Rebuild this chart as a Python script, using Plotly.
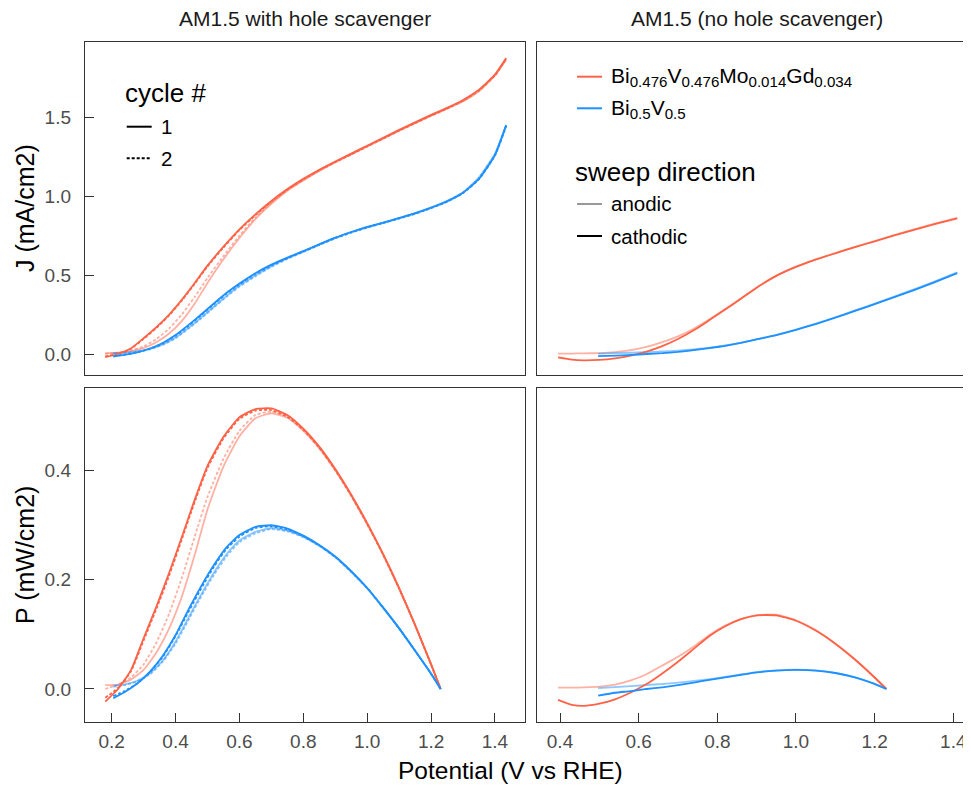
import plotly.graph_objects as go

# ---------------- data ----------------
# Left column: AM1.5 with hole scavenger
VR = [0.18, 0.22, 0.26, 0.30, 0.34, 0.38, 0.42, 0.46, 0.50, 0.55, 0.60, 0.65, 0.70, 0.75,
      0.80, 0.85, 0.90, 0.95, 1.00, 1.05, 1.10, 1.15, 1.20, 1.25, 1.30, 1.35, 1.40, 1.435]
VR_P = [0.18, 0.22, 0.26, 0.30, 0.34, 0.38, 0.42, 0.46, 0.50, 0.55, 0.60, 0.65, 0.70, 0.75,
        0.80, 0.85, 0.90, 0.95, 1.00, 1.05, 1.10, 1.15, 1.20, 1.23]
J_red_cat1 = [-0.020, 0.000, 0.035, 0.100, 0.170, 0.250, 0.345, 0.450, 0.560, 0.680, 0.790, 0.885, 0.970, 1.045,
              1.110, 1.168, 1.220, 1.270, 1.320, 1.370, 1.420, 1.468, 1.515, 1.560, 1.610, 1.675, 1.770, 1.875]
J_red_cat2 = [-0.015, 0.002, 0.033, 0.096, 0.165, 0.245, 0.340, 0.445, 0.555, 0.675, 0.785, 0.880, 0.965, 1.040,
              1.105, 1.163, 1.215, 1.265, 1.315, 1.365, 1.415, 1.463, 1.510, 1.555, 1.605, 1.670, 1.765, 1.870]
J_red_an1 = [0.005, 0.008, 0.018, 0.038, 0.075, 0.130, 0.210, 0.320, 0.450, 0.600, 0.735, 0.855, 0.952, 1.035,
             1.100, 1.160, 1.215, 1.265, 1.315, 1.365, 1.415, 1.463, 1.510, 1.555, 1.600, 1.665, 1.765, 1.865]
J_red_an2 = [0.000, 0.008, 0.022, 0.048, 0.095, 0.162, 0.252, 0.362, 0.482, 0.620, 0.750, 0.865, 0.958, 1.040,
             1.105, 1.163, 1.218, 1.268, 1.318, 1.368, 1.418, 1.466, 1.513, 1.558, 1.605, 1.672, 1.770, 1.870]
P_red_cat1 = [-0.023, 0.000, 0.034, 0.093, 0.151, 0.213, 0.279, 0.347, 0.409, 0.462, 0.498, 0.513, 0.514, 0.502,
              0.477, 0.444, 0.403, 0.356, 0.304, 0.247, 0.185, 0.117, 0.045, 0.000]
P_red_cat2 = [-0.016, 0.002, 0.032, 0.089, 0.147, 0.208, 0.275, 0.343, 0.405, 0.459, 0.495, 0.510, 0.511, 0.499,
              0.475, 0.442, 0.401, 0.354, 0.302, 0.246, 0.184, 0.117, 0.045, 0.000]
P_red_an1 = [0.007, 0.008, 0.017, 0.035, 0.067, 0.111, 0.170, 0.246, 0.329, 0.408, 0.463, 0.496, 0.505, 0.497,
             0.473, 0.441, 0.401, 0.354, 0.302, 0.246, 0.184, 0.117, 0.045, 0.000]
P_red_an2 = [0.000, 0.008, 0.021, 0.045, 0.085, 0.138, 0.204, 0.279, 0.352, 0.422, 0.473, 0.502, 0.508, 0.499,
             0.475, 0.442, 0.402, 0.355, 0.303, 0.246, 0.184, 0.117, 0.045, 0.000]

VB = [0.205, 0.24, 0.28, 0.32, 0.36, 0.40, 0.44, 0.48, 0.52, 0.56, 0.60, 0.65, 0.70, 0.75,
      0.80, 0.85, 0.90, 0.95, 1.00, 1.05, 1.10, 1.15, 1.20, 1.25, 1.30, 1.35, 1.40, 1.435]
VB_P = [0.205, 0.24, 0.28, 0.32, 0.36, 0.40, 0.44, 0.48, 0.52, 0.56, 0.60, 0.65, 0.70, 0.75,
        0.80, 0.85, 0.90, 0.95, 1.00, 1.05, 1.10, 1.15, 1.20, 1.23]
J_blue_cat1 = [-0.016, -0.006, 0.010, 0.035, 0.070, 0.120, 0.183, 0.250, 0.320, 0.388, 0.447, 0.512, 0.566, 0.611,
               0.652, 0.695, 0.737, 0.773, 0.805, 0.833, 0.862, 0.892, 0.927, 0.967, 1.022, 1.110, 1.260, 1.450]
J_blue_cat2 = [-0.012, -0.004, 0.011, 0.034, 0.068, 0.117, 0.178, 0.245, 0.315, 0.383, 0.442, 0.508, 0.563, 0.608,
               0.650, 0.693, 0.735, 0.771, 0.803, 0.831, 0.860, 0.890, 0.925, 0.965, 1.020, 1.108, 1.258, 1.445]
J_blue_an1 = [0.006, 0.008, 0.016, 0.032, 0.060, 0.105, 0.165, 0.230, 0.300, 0.368, 0.432, 0.497, 0.556, 0.605,
              0.649, 0.693, 0.735, 0.771, 0.803, 0.831, 0.860, 0.890, 0.927, 0.970, 1.025, 1.120, 1.270, 1.450]
J_blue_an2 = [0.004, 0.007, 0.015, 0.030, 0.058, 0.100, 0.160, 0.225, 0.295, 0.363, 0.427, 0.492, 0.552, 0.602,
              0.647, 0.691, 0.733, 0.769, 0.801, 0.829, 0.858, 0.888, 0.924, 0.967, 1.022, 1.115, 1.265, 1.445]
P_blue_cat1 = [-0.017, -0.006, 0.010, 0.032, 0.061, 0.099, 0.145, 0.188, 0.227, 0.260, 0.282, 0.297, 0.300, 0.294,
               0.281, 0.264, 0.243, 0.216, 0.185, 0.149, 0.111, 0.070, 0.028, 0.000]
P_blue_cat2 = [-0.013, -0.004, 0.010, 0.031, 0.059, 0.097, 0.141, 0.184, 0.224, 0.257, 0.279, 0.295, 0.298, 0.292,
               0.280, 0.263, 0.242, 0.215, 0.185, 0.149, 0.111, 0.070, 0.028, 0.000]
P_blue_an1 = [0.006, 0.008, 0.015, 0.029, 0.052, 0.087, 0.130, 0.173, 0.213, 0.247, 0.272, 0.288, 0.295, 0.290,
              0.279, 0.263, 0.242, 0.215, 0.185, 0.149, 0.111, 0.070, 0.028, 0.000]
P_blue_an2 = [0.004, 0.007, 0.014, 0.027, 0.050, 0.083, 0.126, 0.169, 0.209, 0.243, 0.269, 0.285, 0.293, 0.289,
              0.278, 0.262, 0.241, 0.214, 0.184, 0.148, 0.111, 0.070, 0.028, 0.000]

# Right column: AM1.5 (no hole scavenger), cycle 1 only
VR2 = [0.395, 0.43, 0.46, 0.50, 0.54, 0.58, 0.62, 0.66, 0.70, 0.74, 0.78, 0.82, 0.86, 0.90,
       0.95, 1.00, 1.05, 1.10, 1.15, 1.20, 1.25, 1.30, 1.35, 1.41]
VR2_P = [0.395, 0.43, 0.46, 0.50, 0.54, 0.58, 0.62, 0.66, 0.70, 0.74, 0.78, 0.82, 0.86, 0.90,
         0.95, 1.00, 1.05, 1.10, 1.15, 1.20, 1.23]
J_red_cat_nh = [-0.022, -0.036, -0.040, -0.037, -0.027, -0.010, 0.015, 0.050, 0.095, 0.150, 0.215, 0.282, 0.350, 0.420,
                0.495, 0.552, 0.598, 0.638, 0.677, 0.714, 0.752, 0.787, 0.822, 0.860]
J_red_an_nh = [0.003, 0.003, 0.004, 0.006, 0.012, 0.024, 0.045, 0.075, 0.112, 0.160, 0.220, 0.285, 0.352, 0.422,
               0.497, 0.554, 0.600, 0.640, 0.679, 0.716, 0.754, 0.789, 0.824, 0.862]
P_red_cat_nh = [-0.020, -0.029, -0.031, -0.027, -0.019, -0.0065, 0.009, 0.0285, 0.050, 0.0735, 0.097, 0.115, 0.128, 0.135,
                0.135, 0.125, 0.107, 0.083, 0.054, 0.021, 0.000]
P_red_an_nh = [0.0025, 0.0024, 0.003, 0.0044, 0.008, 0.0156, 0.027, 0.043, 0.059, 0.078, 0.099, 0.116, 0.128, 0.135,
               0.136, 0.126, 0.108, 0.083, 0.054, 0.021, 0.000]

VB2 = [0.497, 0.54, 0.58, 0.62, 0.66, 0.70, 0.74, 0.78, 0.82, 0.86, 0.90,
       0.95, 1.00, 1.05, 1.10, 1.15, 1.20, 1.25, 1.30, 1.35, 1.41]
VB2_P = [0.497, 0.54, 0.58, 0.62, 0.66, 0.70, 0.74, 0.78, 0.82, 0.86, 0.90,
         0.95, 1.00, 1.05, 1.10, 1.15, 1.20, 1.23]
J_blue_cat_nh = [-0.013, -0.010, -0.006, 0.000, 0.005, 0.013, 0.024, 0.037, 0.052, 0.070, 0.092,
                 0.120, 0.153, 0.190, 0.230, 0.273, 0.316, 0.360, 0.405, 0.452, 0.512]
J_blue_an_nh = [0.002, 0.005, 0.008, 0.012, 0.016, 0.022, 0.030, 0.040, 0.054, 0.072, 0.094,
                0.122, 0.155, 0.192, 0.233, 0.276, 0.319, 0.364, 0.410, 0.458, 0.517]
P_blue_cat_nh = [-0.012, -0.0069, -0.0039, 0.000, 0.0029, 0.0069, 0.0118, 0.0167, 0.0213, 0.0259, 0.0304,
                 0.0336, 0.0350, 0.0338, 0.0293, 0.0212, 0.0092, 0.000]
P_blue_an_nh = [0.0015, 0.0035, 0.0052, 0.0073, 0.0091, 0.0117, 0.0147, 0.0180, 0.0221, 0.0266, 0.0310,
                0.0342, 0.0354, 0.0342, 0.0296, 0.0214, 0.0092, 0.000]

X_TICKS_LEFT = [0.2, 0.4, 0.6, 0.8, 1.0, 1.2, 1.4]
X_TICKS_RIGHT = [0.4, 0.6, 0.8, 1.0, 1.2, 1.4]
J_TICKS = [0.0, 0.5, 1.0, 1.5]
P_TICKS = [0.0, 0.2, 0.4]

STRIP_TITLES = ["AM1.5 with hole scavenger", "AM1.5 (no hole scavenger)"]
# (element, subscript) pairs of the two material formulas
MAT_RED = [("Bi", "0.476"), ("V", "0.476"), ("Mo", "0.014"), ("Gd", "0.034")]
MAT_BLUE = [("Bi", "0.5"), ("V", "0.5")]

# ---------------- styling ----------------
# the page body adds an 8 px margin; the figure is sized so that it ends at the window edge
OFF = 8
W, H = 971 - OFF, 785 - OFF
RED = "rgb(255,99,71)"
RED_L = "rgba(255,99,71,0.5)"
BLUE = "rgb(30,144,255)"
BLUE_L = "rgba(30,144,255,0.5)"
FONT = "Liberation Sans, Arial, sans-serif"
LW = 1.8
DOT = "3px,2px"
LEG_SIZE = 21


def formula(parts):
    out = ""
    for el, sub in parts:
        out += '<span style="font-size:%gpx">%s</span>' % (LEG_SIZE, el)
        out += '<sub><span style="font-size:%gpx">%s</span></sub>' % (LEG_SIZE * 0.72, sub)
    return out


def px_x(p):
    return (p - OFF) / W


def px_y(p):
    return 1 - (p - OFF) / H


fig = go.Figure()


def add(x, y, color, dash, ax):
    fig.add_trace(go.Scatter(
        x=x, y=y, mode="lines", xaxis="x" + ax, yaxis="y" + ax,
        line=dict(color=color, width=LW, dash=dash, shape="spline", smoothing=0.5),
        showlegend=False, hoverinfo="skip"))


# top-left J
add(VR, J_red_an1, RED_L, "solid", "")
add(VR, J_red_an2, RED_L, DOT, "")
add(VB, J_blue_an1, BLUE_L, "solid", "")
add(VB, J_blue_an2, BLUE_L, DOT, "")
add(VR, J_red_cat2, RED, DOT, "")
add(VR, J_red_cat1, RED, "solid", "")
add(VB, J_blue_cat2, BLUE, DOT, "")
add(VB, J_blue_cat1, BLUE, "solid", "")
# top-right J
add(VR2, J_red_an_nh, RED_L, "solid", "2")
add(VB2, J_blue_an_nh, BLUE_L, "solid", "2")
add(VR2, J_red_cat_nh, RED, "solid", "2")
add(VB2, J_blue_cat_nh, BLUE, "solid", "2")
# bottom-left P
add(VR_P, P_red_an1, RED_L, "solid", "3")
add(VR_P, P_red_an2, RED_L, DOT, "3")
add(VB_P, P_blue_an1, BLUE_L, "solid", "3")
add(VB_P, P_blue_an2, BLUE_L, DOT, "3")
add(VR_P, P_red_cat2, RED, DOT, "3")
add(VR_P, P_red_cat1, RED, "solid", "3")
add(VB_P, P_blue_cat2, BLUE, DOT, "3")
add(VB_P, P_blue_cat1, BLUE, "solid", "3")
# bottom-right P
add(VR2_P, P_red_an_nh, RED_L, "solid", "4")
add(VB2_P, P_blue_an_nh, BLUE_L, "solid", "4")
add(VR2_P, P_red_cat_nh, RED, "solid", "4")
add(VB2_P, P_blue_cat_nh, BLUE, "solid", "4")

AX = dict(showline=True, linecolor="#333333", linewidth=1.4, showgrid=False, zeroline=False,
          ticks="inside", ticklen=9, tickwidth=1.2, tickcolor="#333333",
          tickfont=dict(family=FONT, size=19, color="#4d4d4d"), tickformat=".1f")

XL = [85, 525]
XR = [537, 971]
YT = [42, 375]
YB = [388, 722]
dxl = [px_x(XL[0]), px_x(XL[1])]
dxr = [px_x(XR[0]), 1.0]
dyt = [px_y(YT[1]), px_y(YT[0])]
dyb = [px_y(YB[1]), px_y(YB[0])]

xr_left = [0.1165, 1.494]
xr_right = [0.3415, 1.445]
yr_top = [-0.133, 1.977]
yr_bot = [-0.0605, 0.5515]

fig.update_layout(
    width=W, height=H, margin=dict(l=0, r=0, t=0, b=0),
    paper_bgcolor="white", plot_bgcolor="white", showlegend=False,
    font=dict(family=FONT),
    xaxis=dict(AX, domain=dxl, range=xr_left, anchor="y", mirror=True, ticks="", showticklabels=False),
    yaxis=dict(AX, domain=dyt, range=yr_top, anchor="x", mirror=True, tickvals=J_TICKS,
               ticklabelstandoff=9),
    xaxis2=dict(AX, domain=dxr, range=xr_right, anchor="y2", mirror=True, ticks="", showticklabels=False),
    yaxis2=dict(AX, domain=dyt, range=yr_top, anchor="x2", mirror=False, ticks="", showticklabels=False),
    xaxis3=dict(AX, domain=dxl, range=xr_left, anchor="y3", mirror=True, tickvals=X_TICKS_LEFT,
                ticklabelstandoff=2),
    yaxis3=dict(AX, domain=dyb, range=yr_bot, anchor="x3", mirror=True, tickvals=P_TICKS,
                ticklabelstandoff=9),
    xaxis4=dict(AX, domain=dxr, range=xr_right, anchor="y4", mirror=True, tickvals=X_TICKS_RIGHT,
                ticklabelstandoff=2),
    yaxis4=dict(AX, domain=dyb, range=yr_bot, anchor="x4", mirror=False, ticks="", showticklabels=False),
)

ann = []
shapes = []


def text(x, y, s, size, color="black", xanchor="left", angle=0):
    ann.append(dict(x=px_x(x), y=px_y(y), xref="paper", yref="paper", text=s, showarrow=False,
                    xanchor=xanchor, yanchor="middle", textangle=angle,
                    font=dict(family=FONT, size=size, color=color)))


def seg(x0, x1, y, color, dash="solid"):
    shapes.append(dict(type="line", xref="paper", yref="paper", x0=px_x(x0), x1=px_x(x1),
                       y0=px_y(y), y1=px_y(y), line=dict(color=color, width=2, dash=dash)))


# strip titles
text((XL[0] + XL[1]) / 2, 18, STRIP_TITLES[0], 21, "#1a1a1a", "center")
text((XR[0] + 977) / 2, 18, STRIP_TITLES[1], 21, "#1a1a1a", "center")
# axis titles
text(510, 770, "Potential (V vs RHE)", 24.5, "black", "center")
text(25, 208, "J (mA/cm2)", 25, "black", "center", -90)
text(25, 555, "P (mW/cm2)", 25, "black", "center", -90)

# cycle legend
text(123, 93, "cycle #", 26)
seg(126.7, 151.7, 126.7, "black")
text(159, 127, "1", 20.5)
seg(126.7, 151.7, 158.3, "black", DOT)
text(159, 158, "2", 20.5)

# material legend
seg(577, 602, 76.7, RED)
text(609, 77, formula(MAT_RED), LEG_SIZE)
seg(577, 602, 108.3, BLUE)
text(609, 109, formula(MAT_BLUE), LEG_SIZE)

# sweep direction legend
text(573, 172, "sweep direction", 26)
seg(577, 602, 204, "#999999")
text(609, 204, "anodic", 20.5)
seg(577, 602, 236, "black")
text(609, 236, "cathodic", 20.5)

fig.update_layout(annotations=ann, shapes=shapes)
fig.write_html("out.html")
